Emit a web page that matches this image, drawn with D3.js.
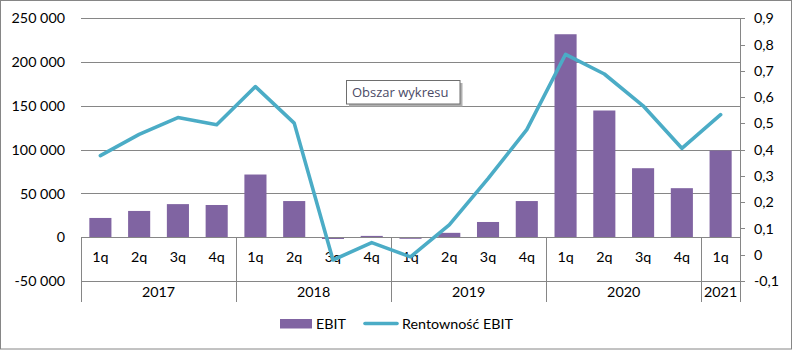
<!DOCTYPE html>
<html>
<head>
<meta charset="utf-8">
<script src="https://cdn.jsdelivr.net/npm/d3@7"></script>
<style>
  html, body { margin: 0; padding: 0; background: #fff; }
  svg { display: block; }
  text { font-family: "Lato", "Noto Sans", sans-serif; fill: #000; }
</style>
</head>
<body>
<svg id="chart" width="793" height="350"></svg>
<script>
// Quarterly EBIT (left axis) and EBIT margin (right axis)
const quarters = ["1q","2q","3q","4q","1q","2q","3q","4q","1q","2q","3q","4q","1q","2q","3q","4q","1q"];
const years = ["2017","2018","2019","2020","2021"];
const quartersPerYear = [4, 4, 4, 4, 1];
const ebit = [22000, 30000, 37800, 36800, 71600, 41300, -2000, 1500, -1800, 5000, 17400, 41300, 231800, 144700, 78800, 56000, 99000];
const rentownosc = [0.377, 0.458, 0.522, 0.495, 0.640, 0.501, -0.020, 0.046, -0.008, 0.114, 0.290, 0.476, 0.763, 0.688, 0.567, 0.405, 0.533];
const leftTicks = [-50000, 0, 50000, 100000, 150000, 200000, 250000];
const rightTicks = [-0.1, 0, 0.1, 0.2, 0.3, 0.4, 0.5, 0.6, 0.7, 0.8, 0.9];
const seriesNames = ["EBIT", "Rentowność EBIT"];

const barColor = "#8064A2";
const lineColor = "#4BACC6";
const gridColor = "#868686";

const svg = d3.select("#chart");
const plot = { left: 81, right: 740, top: 18.3, bottom: 281 };

// chart area border
svg.append("rect")
  .attr("x", 0.5).attr("y", 0.5).attr("width", 791).attr("height", 348.5)
  .attr("fill", "#fff").attr("stroke", gridColor).attr("stroke-width", 1);

const idx = d3.range(quarters.length);
const x = d3.scaleBand().domain(idx).range([plot.left, plot.right])
  .paddingInner(0.43).paddingOuter(0.215);
const step = x.step();
const yL = d3.scaleLinear().domain([-50000, 250000]).range([plot.bottom, plot.top]);
const yR = d3.scaleLinear().domain([-0.1, 0.9]).range([plot.bottom, plot.top]);

const fmtThousands = d => d === 0 ? "0" : d3.format(",")(d).replace(/,/g, " ").replace("−", "-");
const fmtComma = d => d === 0 ? "0" : d3.format(".1f")(d).replace(".", ",").replace("−", "-");

// left axis with horizontal gridlines
const gL = svg.append("g")
  .attr("transform", `translate(${plot.left},0)`)
  .call(d3.axisLeft(yL).tickValues(leftTicks).tickFormat(fmtThousands)
    .tickSize(-(plot.right - plot.left)).tickPadding(16));
gL.select(".domain").remove();
gL.selectAll(".tick line").attr("stroke", gridColor).attr("shape-rendering", "crispEdges");
gL.selectAll(".tick text").attr("font-size", 14.3);

// right axis
const gR = svg.append("g")
  .attr("transform", `translate(${plot.right},0)`)
  .call(d3.axisRight(yR).tickValues(rightTicks).tickFormat(fmtComma)
    .tickSize(5).tickSizeOuter(0).tickPadding(9));
gR.select(".domain").attr("stroke", gridColor).attr("shape-rendering", "crispEdges");
gR.selectAll(".tick line").attr("stroke", gridColor).attr("shape-rendering", "crispEdges");
gR.selectAll(".tick text").attr("font-size", 14.3);

// bars
svg.append("g").selectAll("rect").data(ebit).join("rect")
  .attr("x", (d, i) => x(i))
  .attr("width", x.bandwidth())
  .attr("y", d => yL(Math.max(0, d)))
  .attr("height", d => Math.abs(yL(d) - yL(0)))
  .attr("fill", barColor);

// category axis (quarters) on the zero line
const zeroY = yL(0);
const gX = svg.append("g")
  .attr("transform", `translate(0,${zeroY})`)
  .call(d3.axisBottom(x).tickFormat(i => quarters[i]).tickSize(0).tickPadding(15));
gX.select(".domain").attr("stroke", gridColor).attr("shape-rendering", "crispEdges");
gX.selectAll(".tick text").attr("font-size", 14.3);

// year groups: separators and labels
let start = 0;
const bounds = [0];
quartersPerYear.forEach(n => { start += n; bounds.push(start); });
const boundX = b => plot.left + b * step;
svg.append("g").selectAll("line").data(bounds).join("line")
  .attr("x1", b => Math.round(boundX(b)) + 0.5).attr("x2", b => Math.round(boundX(b)) + 0.5)
  .attr("y1", zeroY).attr("y2", 302)
  .attr("stroke", gridColor);
svg.append("g").selectAll("text").data(years).join("text")
  .attr("x", (d, i) => (boundX(bounds[i]) + boundX(bounds[i + 1])) / 2)
  .attr("y", 292)
  .attr("dy", "0.35em")
  .attr("text-anchor", "middle")
  .attr("font-size", 14.3)
  .text(d => d);

// margin line
const line = d3.line().x((d, i) => x(i) + x.bandwidth() / 2).y(d => yR(d));
svg.append("path").datum(rentownosc)
  .attr("d", line)
  .attr("fill", "none")
  .attr("stroke", lineColor)
  .attr("stroke-width", 3.6)
  .attr("stroke-linejoin", "round")
  .attr("stroke-linecap", "round");

// legend
const lg = svg.append("g");
lg.append("rect").attr("x", 280).attr("y", 319).attr("width", 32).attr("height", 9.5).attr("fill", barColor);
lg.append("text").attr("x", 316).attr("y", 324).attr("dy", "0.35em").attr("font-size", 14.3).text(seriesNames[0]);
lg.append("line").attr("x1", 365).attr("x2", 397).attr("y1", 323.5).attr("y2", 323.5)
  .attr("stroke", lineColor).attr("stroke-width", 3.6).attr("stroke-linecap", "round");
lg.append("text").attr("x", 402).attr("y", 324).attr("dy", "0.35em").attr("font-size", 14.3).text(seriesNames[1]);

// hover hint box over the plot area
const tip = svg.append("g");
tip.append("rect").attr("x", 349).attr("y", 83).attr("width", 113.5).attr("height", 23.5).attr("fill", "#b0b0b0");
tip.append("rect").attr("x", 346.5).attr("y", 80.5).attr("width", 113.5).attr("height", 23.5)
  .attr("fill", "#fff").attr("stroke", "#6e6e6e");
tip.append("text").attr("x", 352).attr("y", 92.5).attr("dy", "0.35em")
  .style("font-family", "'Open Sans', sans-serif").style("font-size", "13px").style("fill", "#4a4a66")
  .text("Obszar wykresu");
</script>
</body>
</html>
